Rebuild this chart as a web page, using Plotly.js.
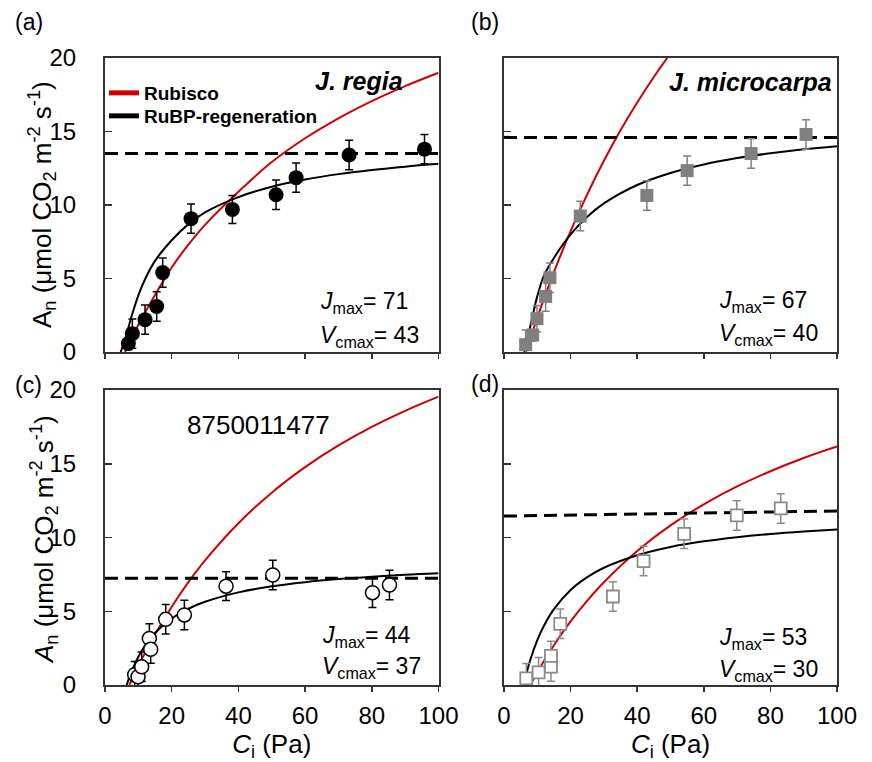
<!DOCTYPE html>
<html>
<head>
<meta charset="utf-8">
<script src="https://cdn.plot.ly/plotly-3.0.1.min.js"></script>
<style>html,body{margin:0;padding:0;background:#fff;}#chart{width:872px;height:762px;}</style>
</head>
<body>
<div id="chart"></div>
<script>
// ---------- measured data (Ci in Pa, An in umol CO2 m-2 s-1) ----------
const Ci_a = [7.0, 8.2, 12.0, 15.5, 17.3, 25.8, 38.2, 51.3, 57.3, 73.2, 95.8];
const An_a = [0.57, 1.25, 2.2, 3.1, 5.4, 9.07, 9.7, 10.7, 11.86, 13.4, 13.8];
const err_a = [0.3, 1.0, 1.0, 1.0, 1.0, 1.0, 0.95, 1.0, 1.0, 1.0, 1.0];

const Ci_b = [6.5, 8.6, 9.9, 12.5, 13.8, 22.9, 42.9, 55.0, 74.2, 90.7];
const An_b = [0.5, 1.15, 2.27, 3.78, 5.05, 9.25, 10.65, 12.34, 13.5, 14.8];
const err_b = [1.0, 0.4, 0.9, 1.0, 1.0, 1.0, 1.0, 1.0, 1.0, 1.0];

const Ci_c = [8.9, 9.9, 11.0, 13.3, 13.7, 18.2, 23.8, 36.3, 50.3, 80.2, 85.3];
const An_c = [0.7, 0.56, 1.24, 3.16, 2.42, 4.45, 4.75, 6.7, 7.46, 6.26, 6.78];
const err_c = [0.9, 0.9, 1.0, 1.0, 0.95, 1.0, 1.0, 0.97, 1.0, 1.0, 1.0];

const Ci_d = [6.7, 10.4, 14.1, 14.1, 16.9, 32.7, 41.9, 54.1, 69.9, 83.1];
const An_d = [0.45, 0.86, 1.25, 1.97, 4.15, 6.0, 8.4, 10.25, 11.5, 11.97];
const err_d = [1.0, 1.0, 1.0, 1.0, 1.0, 1.0, 1.0, 1.0, 1.0, 1.0];

// ---------- fitted curves ----------
const rub_a_C = [6, 8, 10, 12, 15, 20, 25, 30, 40, 50, 60, 70, 80, 90, 100];
const rub_a_A = [0, 0.95, 1.85, 2.69, 3.88, 5.75, 7.3, 8.65, 10.9, 12.92, 14.54, 15.9, 17.07, 18.09, 19.0];
const rubp_a_C = [4.7, 6, 8, 10, 12, 15, 20, 25, 30, 40, 50, 60, 70, 80, 90, 100];
const rubp_a_A = [0, 0.85, 2.45, 3.85, 4.95, 6.2, 7.6, 8.7, 9.5, 10.54, 11.24, 11.73, 12.1, 12.38, 12.61, 12.8];

const rub_b_C = [6.6, 8, 10, 12, 15, 20, 25, 30, 35, 40, 45, 50, 55];
const rub_b_A = [0, 0.98, 2.33, 3.61, 5.44, 8.22, 10.73, 13.01, 15.08, 16.97, 18.71, 20.31, 21.79];
const rubp_b_C = [6.1, 8, 10, 12, 15, 20, 25, 30, 40, 50, 60, 70, 80, 90, 100];
const rubp_b_A = [0, 1.85, 3.8, 5.2, 6.4, 8.0, 9.2, 10.11, 11.36, 12.18, 12.76, 13.19, 13.52, 13.79, 14.0];

const rub_c_C = [7.3, 10, 12, 15, 20, 25, 30, 40, 50, 60, 70, 80, 90, 100];
const rub_c_A = [0, 1.29, 2.18, 3.43, 5.3, 6.97, 8.45, 10.97, 13.04, 14.77, 16.24, 17.5, 18.59, 19.55];
const rubp_c_C = [6.5, 8, 10, 12, 15, 20, 25, 30, 40, 50, 60, 70, 80, 90, 100];
const rubp_c_A = [0, 0.94, 1.92, 2.67, 3.53, 4.51, 5.17, 5.64, 6.28, 6.69, 6.97, 7.18, 7.34, 7.47, 7.57];

const rub_d_C = [7.9, 10, 12, 15, 20, 25, 30, 40, 50, 60, 70, 80, 90, 100];
const rub_d_A = [0, 0.86, 1.63, 2.7, 4.31, 5.72, 6.97, 9.09, 10.82, 12.25, 13.46, 14.49, 15.39, 16.17];
const rubp_d_C = [5.9, 7, 8, 10, 12, 15, 20, 25, 30, 40, 50, 60, 70, 80, 90, 100];
const rubp_d_A = [0, 1.0, 1.78, 3.04, 4.02, 5.14, 6.44, 7.31, 7.95, 8.8, 9.36, 9.74, 10.02, 10.24, 10.41, 10.55];

const dash_C = [0, 100];
const dash_a = [13.5, 13.5];
const dash_b = [14.6, 14.6];
const dash_c = [7.23, 7.23];
const dash_d = [11.45, 11.8];

const xTicks = [0, 20, 40, 60, 80, 100];
const yTicks = [0, 5, 10, 15, 20];
const jmax = ['71', '67', '44', '53'];
const vcmax = ['43', '40', '37', '30'];
const species = ['J. regia', 'J. microcarpa'];
const panelLabels = ['(a)', '(b)', '(c)', '(d)'];
const seriesNames = ['Rubisco', 'RuBP-regeneration'];

// ---------- styling ----------
const FONT = 'Liberation Sans, Arial, Helvetica, sans-serif';
const RED = '#d00000';
const W = 872, H = 762;
const px = v => v / W;
const py = v => 1 - v / H;

const traces = [];
function panel(xa, ya, rC, rA, pC, pA, dA, C, A, E, marker, errColor) {
  traces.push({x: rC, y: rA, xaxis: xa, yaxis: ya, mode: 'lines', showlegend: false,
    line: {color: RED, width: 2, shape: 'spline', smoothing: 1}, hoverinfo: 'skip'});
  traces.push({x: pC, y: pA, xaxis: xa, yaxis: ya, mode: 'lines', showlegend: false,
    line: {color: '#000', width: 2, shape: 'spline', smoothing: 1}, hoverinfo: 'skip'});
  traces.push({x: dash_C, y: dA, xaxis: xa, yaxis: ya, mode: 'lines', showlegend: false,
    line: {color: '#000', width: 3, dash: '13px,7px'}, hoverinfo: 'skip'});
  traces.push({x: C, y: A, xaxis: xa, yaxis: ya, mode: 'markers', showlegend: false,
    marker: marker, cliponaxis: false,
    error_y: {type: 'data', array: E, visible: true, color: errColor, thickness: 1.5, width: 4}});
}
panel('x', 'y', rub_a_C, rub_a_A, rubp_a_C, rubp_a_A, dash_a, Ci_a, An_a, err_a,
  {symbol: 'circle', size: 15, color: '#000', line: {color: '#000', width: 0}}, '#000');
panel('x2', 'y2', rub_b_C, rub_b_A, rubp_b_C, rubp_b_A, dash_b, Ci_b, An_b, err_b,
  {symbol: 'square', size: 13, color: '#808080', line: {color: '#808080', width: 0}}, '#808080');
panel('x3', 'y3', rub_c_C, rub_c_A, rubp_c_C, rubp_c_A, dash_c, Ci_c, An_c, err_c,
  {symbol: 'circle', size: 14, color: '#fff', line: {color: '#000', width: 1.5}}, '#000');
panel('x4', 'y4', rub_d_C, rub_d_A, rubp_d_C, rubp_d_A, dash_d, Ci_d, An_d, err_d,
  {symbol: 'square', size: 12, color: '#fff', line: {color: '#8a8a8a', width: 1.8}}, '#8a8a8a');

// legend entries (no data, thick samples), one legend box each for exact spacing
traces.push({x: [null], y: [null], xaxis: 'x', yaxis: 'y', mode: 'lines', name: seriesNames[0],
  line: {color: RED, width: 5}, showlegend: true, legend: 'legend'});
traces.push({x: [null], y: [null], xaxis: 'x', yaxis: 'y', mode: 'lines', name: seriesNames[1],
  line: {color: '#000', width: 5}, showlegend: true, legend: 'legend2'});

function xax(domain, labels) {
  return {domain: domain, range: [0, 100], tickvals: xTicks, showticklabels: labels,
    ticks: 'outside', ticklen: 5, tickwidth: 1.5, tickcolor: '#333',
    showline: true, linecolor: '#333', linewidth: 2, mirror: true,
    showgrid: false, zeroline: false, fixedrange: true,
    tickfont: {family: FONT, size: 24, color: '#000'}, ticklabelstandoff: 3};
}
function yax(domain, labels) {
  return {domain: domain, range: [0, 20], tickvals: yTicks, showticklabels: labels,
    ticks: 'inside', ticklen: 7, tickwidth: 1.5, tickcolor: '#333',
    showline: true, linecolor: '#333', linewidth: 2, mirror: true,
    showgrid: false, zeroline: false, fixedrange: true,
    tickfont: {family: FONT, size: 24, color: '#000'}, ticklabelstandoff: 22};
}
const xTop = [px(105), px(438.5)], xRight = [px(504), px(837)];
const yTop = [py(352), py(58)], yBot = [py(685), py(390)];

const ci = '<i>C</i><sub>i</sub> (Pa)';
const legendFont = {family: FONT, size: 19, color: '#000', weight: 'bold'};
const layout = {
  width: W, height: H, margin: {l: 0, r: 0, t: 0, b: 0},
  paper_bgcolor: '#fff', plot_bgcolor: '#fff',
  font: {family: FONT, color: '#000'},
  xaxis: Object.assign(xax(xTop, false), {anchor: 'y'}),
  yaxis: Object.assign(yax(yTop, true), {anchor: 'x'}),
  xaxis2: Object.assign(xax(xRight, false), {anchor: 'y2'}),
  yaxis2: Object.assign(yax(yTop, false), {anchor: 'x2'}),
  xaxis3: Object.assign(xax(xTop, true), {anchor: 'y3', title: {text: ci, font: {family: FONT, size: 26}, standoff: 6}}),
  yaxis3: Object.assign(yax(yBot, true), {anchor: 'x3'}),
  xaxis4: Object.assign(xax(xRight, true), {anchor: 'y4', title: {text: ci, font: {family: FONT, size: 26}, standoff: 6}}),
  yaxis4: Object.assign(yax(yBot, false), {anchor: 'x4'}),
  showlegend: true,
  legend: {x: px(104), y: py(93), xanchor: 'left', yanchor: 'middle', bgcolor: 'rgba(0,0,0,0)',
    font: legendFont, itemwidth: 30},
  legend2: {x: px(104), y: py(116), xanchor: 'left', yanchor: 'middle', bgcolor: 'rgba(0,0,0,0)',
    font: legendFont, itemwidth: 30},
  annotations: []
};

const ann = layout.annotations;
function txt(text, x, y, size, opts) {
  ann.push(Object.assign({text: text, x: px(x), y: py(y), xref: 'paper', yref: 'paper', showarrow: false,
    font: {family: FONT, size: size, color: '#000'}, xanchor: 'center', yanchor: 'middle'}, opts || {}));
}
// panel letters
txt(panelLabels[0], 29, 22, 23);
txt(panelLabels[1], 485, 22, 23);
txt(panelLabels[2], 28, 385, 23);
txt(panelLabels[3], 485, 384, 23);
// y titles
const yt = ' (μmol CO<sub>2</sub> m<sup>-2</sup> s<sup>-1</sup>)';
txt('A<sub>n</sub>' + yt, 42, 205, 26, {textangle: -90});
txt('<i>A</i><sub>n</sub>' + yt, 44, 540, 26, {textangle: -90});
// species
txt('<b><i>' + species[0] + '</i></b>', 405, 81, 25, {xanchor: 'right'});
txt('<b><i>' + species[1] + '</i></b>', 834, 82, 25, {xanchor: 'right'});
// number label in (c)
txt('8750011477', 258, 425, 26);
// Jmax / Vcmax
const jv = [[318, 302, 336], [717, 301, 334], [320, 636, 667], [717, 638, 670]];
for (let i = 0; i < 4; i++) {
  txt('<i>J</i><sub>max</sub>= ' + jmax[i], jv[i][0], jv[i][1], 23, {xanchor: 'left'});
  txt('<i>V</i><sub>cmax</sub>= ' + vcmax[i], jv[i][0], jv[i][2], 23, {xanchor: 'left'});
}

Plotly.newPlot('chart', traces, layout, {staticPlot: true, displayModeBar: false});
</script>
</body>
</html>
